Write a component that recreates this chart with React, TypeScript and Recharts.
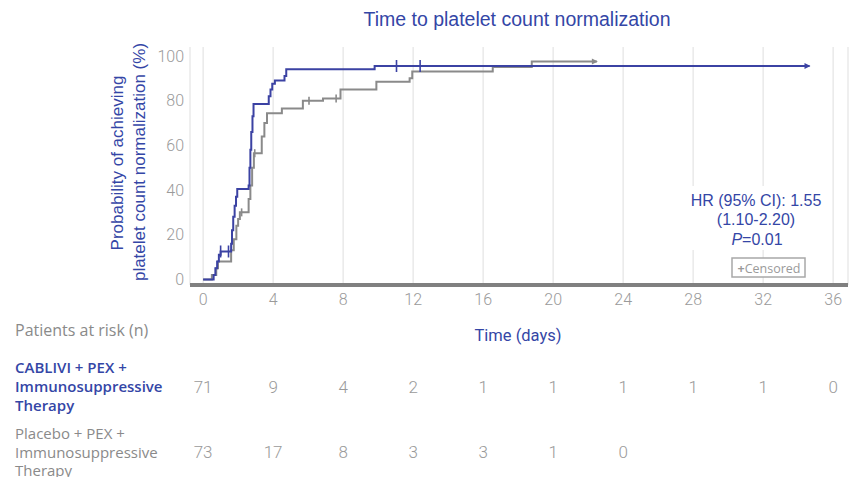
import React from "react";
import {
  ComposedChart,
  Line,
  Scatter,
  XAxis,
  YAxis,
  CartesianGrid,
  Customized,
} from "recharts";

// ---- data ----
const cabliviCurve: [number, number][] = [
  [0, 0], [0.6, 2], [0.7, 5], [0.8, 8], [0.9, 11], [1.0, 12.5],
  [1.6, 16], [1.65, 22], [1.72, 28], [1.8, 33], [1.88, 37], [1.95, 40.5],
  [2.6, 42], [2.65, 50], [2.7, 58], [2.75, 66], [2.82, 73], [2.88, 78.5],
  [3.75, 82], [3.85, 85], [3.95, 87.5], [4.1, 89], [4.65, 91], [4.75, 94],
  [9.8, 95.5], [34.65, 95.5],
];
const placeboCurve: [number, number][] = [
  [0, 0], [0.5, 2], [0.75, 5], [0.85, 8], [1.6, 13], [1.75, 18], [1.9, 24],
  [2.0, 27], [2.1, 30], [2.6, 36], [2.7, 42], [2.8, 50], [2.9, 56.5],
  [3.35, 64], [3.5, 70], [3.65, 74.3], [4.5, 76.5], [5.7, 80], [6.85, 81],
  [7.85, 85], [9.9, 88.5], [11.8, 90], [11.95, 93], [16.55, 95],
  [18.78, 97.5], [22.5, 97.5],
];
const cabliviCensored: [number, number][] = [
  [1.0, 12.5], [1.45, 12.5], [11.05, 95.5], [12.4, 95.5],
];
const placeboCensored: [number, number][] = [
  [2.2, 30], [2.95, 56.5], [6.05, 80], [7.6, 81],
];
const cabliviEnd: [number, number][] = [[34.65, 95.5]];
const placeboEnd: [number, number][] = [[22.5, 97.5]];

const timeTicks = [0, 4, 8, 12, 16, 20, 24, 28, 32, 36];
const yTicks = [0, 20, 40, 60, 80, 100];
const cabliviAtRisk = [71, 9, 4, 2, 1, 1, 1, 1, 1, 0];
const placeboAtRisk = [73, 17, 8, 3, 3, 1, 0];

const toRows = (arr: [number, number][]) => arr.map(([t, p]) => ({ t, p }));
const riskRows = (vals: number[]) => vals.map((n, i) => ({ t: timeTicks[i], p: 0, n }));

const BLUE = "#3b42a3";
const TEXT_BLUE = "#3446a6";
const GRAY = "#8a8a8a";
const TICK_GRAY = "#9a9a9a";
const NUM_FONT = "Roboto, sans-serif";
const LABEL_FONT = "'Open Sans', sans-serif";
const ARIAL = "'Liberation Sans', Arial, sans-serif";

const censorShape = (color: string, half: number) => (props: any) => {
  const { cx, cy } = props;
  return (
    <line x1={cx} x2={cx} y1={cy - half} y2={cy + half} stroke={color} strokeWidth={1.6} />
  );
};
const arrowShape = (color: string) => (props: any) => {
  const { cx, cy } = props;
  return (
    <path d={`M${cx - 5},${cy - 3} L${cx + 1},${cy} L${cx - 5},${cy + 3} Z`} fill={color} />
  );
};
// risk-table numbers: x from the chart's x scale, row placed below the axis
const riskShape = (rowY: number) => (props: any) => {
  const { cx, payload } = props;
  return (
    <text
      x={cx}
      y={rowY}
      textAnchor="middle"
      dominantBaseline="central"
      fontFamily={NUM_FONT}
      fontWeight={300}
      fontSize={17}
      fill={TICK_GRAY}
    >
      {payload.n}
    </text>
  );
};

const Overlay = () => (
  <g>
    <text x={517} y={19} textAnchor="middle" dominantBaseline="central" fontFamily={ARIAL} fontSize={19.5} fill={TEXT_BLUE}>
      Time to platelet count normalization
    </text>
    <g fontFamily={ARIAL} fontSize={17} fill={TEXT_BLUE}>
      <text x={117} y={163} transform="rotate(-90 117 163)" textAnchor="middle" dominantBaseline="central">
        Probability of achieving
      </text>
      <text x={139} y={162} transform="rotate(-90 139 162)" textAnchor="middle" dominantBaseline="central">
        platelet count normalization (%)
      </text>
    </g>
    <rect x={684} y={186} width={144} height={64} fill="#fff" />
    <g fontFamily={ARIAL} fontSize={16} fill={TEXT_BLUE} textAnchor="middle">
      <text x={756} y={200} dominantBaseline="central">HR (95% CI): 1.55</text>
      <text x={756} y={219} dominantBaseline="central">(1.10-2.20)</text>
      <text x={757} y={239} dominantBaseline="central">
        <tspan fontStyle="italic">P</tspan>=0.01
      </text>
    </g>
    <rect x={732} y={258} width={73} height={19} fill="#fff" stroke="#a8a8a8" strokeWidth={1.5} />
    <text x={769} y={268} textAnchor="middle" dominantBaseline="central" fontFamily={LABEL_FONT} fontSize={12.5} fill="#9a9a9a">
      <tspan fontWeight={700}>+</tspan>Censored
    </text>
    <text x={518} y={335} textAnchor="middle" dominantBaseline="central" fontFamily={NUM_FONT} fontSize={16.5} fill={TEXT_BLUE}>
      Time (days)
    </text>
    <text x={15} y={330} dominantBaseline="central" fontFamily={LABEL_FONT} fontSize={16} fill="#8a8a8a">
      Patients at risk (n)
    </text>
    <g fontFamily={LABEL_FONT} fontSize={15} fontWeight={600} fill={TEXT_BLUE}>
      <text x={15} y={367} dominantBaseline="central">CABLIVI + PEX +</text>
      <text x={15} y={386} dominantBaseline="central">Immunosuppressive</text>
      <text x={15} y={405} dominantBaseline="central">Therapy</text>
    </g>
    <g fontFamily={LABEL_FONT} fontSize={15} fill="#8a8a8a">
      <text x={15} y={433} dominantBaseline="central">Placebo + PEX +</text>
      <text x={15} y={452} dominantBaseline="central">Immunosuppressive</text>
      <text x={15} y={470} dominantBaseline="central">Therapy</text>
    </g>
  </g>
);

export default function App() {
  return (
    <div style={{ position: "absolute", left: 0, top: 0, width: 855, height: 477, background: "#fff" }}>
      <ComposedChart
        width={855}
        height={477}
        margin={{ top: 47, right: 7, bottom: 0, left: 0 }}
      >
        <CartesianGrid horizontal={false} stroke="#e4e4e4" strokeWidth={1.2} />
        <XAxis
          dataKey="t"
          type="number"
          domain={[-0.75, 36.85]}
          ticks={timeTicks}
          axisLine={{ stroke: "#808080", strokeWidth: 4 }}
          tickLine={false}
          tickSize={0}
          tickMargin={9}
          height={192}
          tick={{ fill: TICK_GRAY, fontFamily: NUM_FONT, fontWeight: 300, fontSize: 16 }}
        />
        <YAxis
          type="number"
          domain={[-2.5, 104]}
          ticks={yTicks}
          width={190}
          axisLine={false}
          tickLine={false}
          tickSize={0}
          tickMargin={6}
          tick={{ fill: TICK_GRAY, fontFamily: NUM_FONT, fontWeight: 300, fontSize: 16 }}
        />
        <Customized component={Overlay} />
        <Line
          data={toRows(placeboCurve)}
          dataKey="p"
          type="stepAfter"
          stroke={GRAY}
          strokeWidth={2}
          dot={false}
          activeDot={false}
          isAnimationActive={false}
        />
        <Line
          data={toRows(cabliviCurve)}
          dataKey="p"
          type="stepAfter"
          stroke={BLUE}
          strokeWidth={2}
          dot={false}
          activeDot={false}
          isAnimationActive={false}
        />
        <Scatter data={toRows(placeboCensored)} dataKey="p" shape={censorShape(GRAY, 4)} isAnimationActive={false} />
        <Scatter data={toRows(cabliviCensored)} dataKey="p" shape={censorShape(BLUE, 6)} isAnimationActive={false} />
        <Scatter data={toRows(placeboEnd)} dataKey="p" shape={arrowShape(GRAY)} isAnimationActive={false} />
        <Scatter data={toRows(cabliviEnd)} dataKey="p" shape={arrowShape(BLUE)} isAnimationActive={false} />
        <Scatter data={riskRows(cabliviAtRisk)} dataKey="p" shape={riskShape(387)} isAnimationActive={false} />
        <Scatter data={riskRows(placeboAtRisk)} dataKey="p" shape={riskShape(452)} isAnimationActive={false} />
      </ComposedChart>
    </div>
  );
}
